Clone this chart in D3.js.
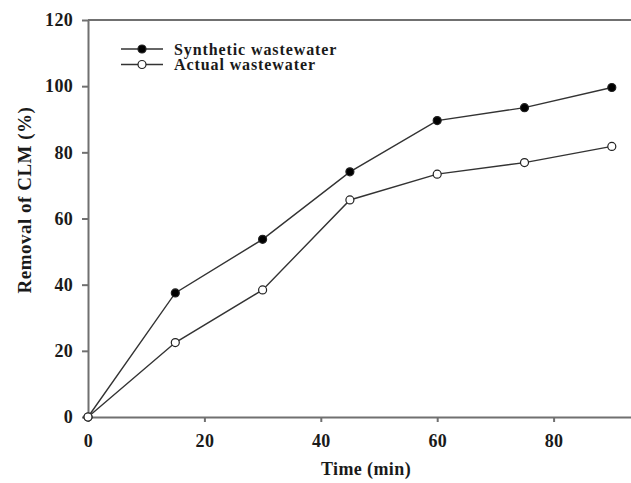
<!DOCTYPE html>
<html>
<head>
<meta charset="utf-8">
<script src="https://cdn.jsdelivr.net/npm/d3@7"></script>
<style>
  html, body { margin: 0; padding: 0; background: #fff; }
  svg { display: block; }
  text { font-family: "Liberation Serif", "Times New Roman", serif; font-weight: bold; fill: #1a1a1a; }
</style>
</head>
<body>
<svg id="chart" width="631" height="483"></svg>
<script>
// Removal of CLM over time for two wastewater matrices
const times = [0, 15, 30, 45, 60, 75, 90];
const synthetic = [0, 37.5, 53.7, 74.1, 89.6, 93.5, 99.6];
const actual = [0, 22.5, 38.4, 65.6, 73.4, 76.9, 81.8];
const xTicks = [0, 20, 40, 60, 80];
const yTicks = [0, 20, 40, 60, 80, 100, 120];
const seriesNames = ["Synthetic wastewater", "Actual wastewater"];

const svg = d3.select("#chart");
const plotLeft = 88, plotTop = 20, plotBottom = 417;

const x = d3.scaleLinear().domain([0, 100]).range([plotLeft, plotLeft + 582]);
const y = d3.scaleLinear().domain([0, 120]).range([plotBottom, plotTop]);

const axisColor = "#707070";
const labelSize = 18;

// Top frame line
svg.append("line")
  .attr("x1", plotLeft).attr("x2", x(100))
  .attr("y1", plotTop).attr("y2", plotTop)
  .attr("stroke", axisColor).attr("stroke-width", 2);

function styleTicks(g) {
  g.select(".domain").attr("stroke", axisColor).attr("stroke-width", 2);
  g.selectAll(".tick line").attr("stroke", axisColor).attr("stroke-width", 2);
  g.selectAll(".tick text")
    .attr("font-size", labelSize)
    .style("font-family", "Liberation Serif")
    .style("font-weight", "bold")
    .style("letter-spacing", "0.3px")
    .attr("fill", "#1a1a1a");
}

// X axis
const xAxis = svg.append("g")
  .attr("transform", `translate(0,${plotBottom})`)
  .call(d3.axisBottom(x).tickValues(xTicks).tickSize(5).tickPadding(12).tickSizeOuter(0));
styleTicks(xAxis);

// Y axis
const yAxis = svg.append("g")
  .attr("transform", `translate(${plotLeft},0)`)
  .call(d3.axisLeft(y).tickValues(yTicks).tickSize(6).tickPadding(9).tickSizeOuter(0));
styleTicks(yAxis);

// Axis titles
svg.append("text")
  .attr("x", 366).attr("y", 475)
  .attr("text-anchor", "middle").attr("font-size", 18)
  .style("letter-spacing", "0.4px")
  .text("Time (min)");
svg.append("text")
  .attr("transform", "translate(31,200) rotate(-90)")
  .attr("text-anchor", "middle").attr("font-size", 19)
  .style("letter-spacing", "0.5px")
  .text("Removal of CLM (%)");

// Series
const line = d3.line().x((d, i) => x(times[i])).y(d => y(d));
const series = [
  { name: seriesNames[0], values: synthetic, fill: "#000" },
  { name: seriesNames[1], values: actual, fill: "#fff" }
];

series.forEach(s => {
  svg.append("path")
    .datum(s.values)
    .attr("d", line)
    .attr("fill", "none")
    .attr("stroke", "#333")
    .attr("stroke-width", 1.4);
  svg.selectAll(null)
    .data(s.values)
    .enter().append("circle")
    .attr("cx", (d, i) => x(times[i]))
    .attr("cy", d => y(d))
    .attr("r", 4)
    .attr("fill", s.fill)
    .attr("stroke", "#222")
    .attr("stroke-width", 1.2);
});

// Legend
const legend = svg.append("g");
series.forEach((s, i) => {
  const ly = 49 + i * 15.5;
  legend.append("line")
    .attr("x1", 121).attr("x2", 163)
    .attr("y1", ly).attr("y2", ly)
    .attr("stroke", "#333").attr("stroke-width", 1.4);
  legend.append("circle")
    .attr("cx", 142).attr("cy", ly).attr("r", 4)
    .attr("fill", s.fill).attr("stroke", "#222").attr("stroke-width", 1.2);
  legend.append("text")
    .attr("x", 174).attr("y", ly + 5.5)
    .attr("font-size", 16)
    .style("letter-spacing", "0.9px")
    .text(s.name);
});
</script>
</body>
</html>
